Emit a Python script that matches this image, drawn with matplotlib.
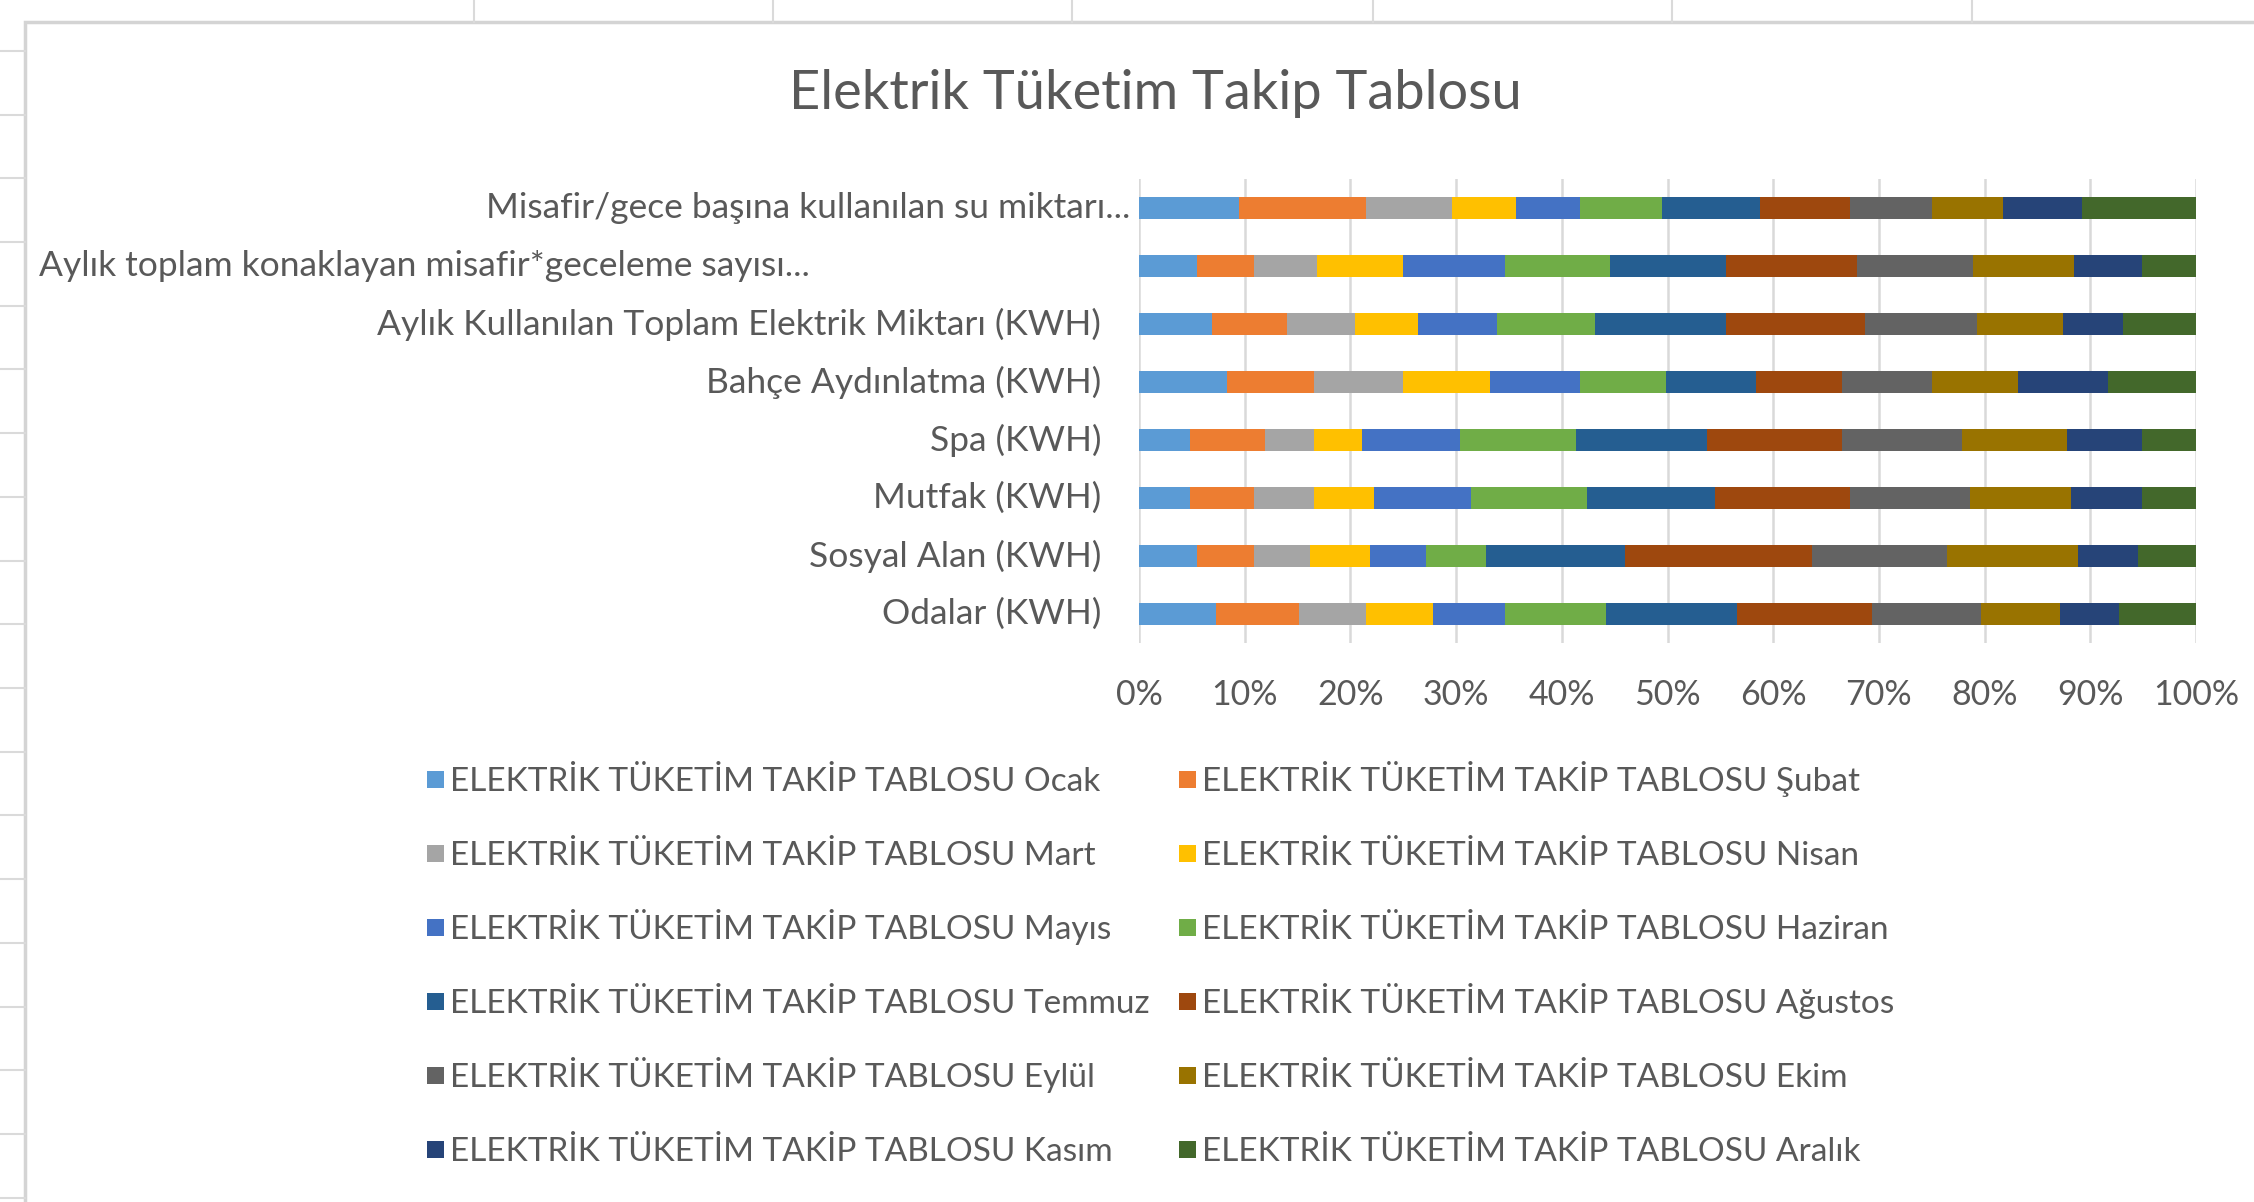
import numpy as np
import matplotlib
matplotlib.use("Agg")
from matplotlib import pyplot as plt
from matplotlib.patches import Rectangle
from matplotlib.lines import Line2D
from matplotlib.transforms import blended_transform_factory

plt.rcParams['font.family'] = ['Lato', 'DejaVu Sans']

# categories, bottom to top (Excel order)
categories = [
    'Odalar (KWH)',
    'Sosyal Alan (KWH)',
    'Mutfak (KWH)',
    'Spa (KWH)',
    'Bahçe Aydınlatma (KWH)',
    'Aylık Kullanılan Toplam Elektrik Miktarı (KWH)',
    'Aylık toplam konaklayan misafir*geceleme sayısı...',
    'Misafir/gece başına kullanılan su miktarı...',
]

months = ['Ocak', 'Şubat', 'Mart', 'Nisan', 'Mayıs', 'Haziran',
          'Temmuz', 'Ağustos', 'Eylül', 'Ekim', 'Kasım', 'Aralık']

# share of each month per category (%)
ocak = [7.29, 5.50, 4.83, 4.83, 8.34, 6.92, 5.50, 9.45]
subat = [7.83, 5.37, 6.04, 7.09, 8.20, 7.09, 5.37, 12.02]
mart = [6.35, 5.30, 5.67, 4.62, 8.41, 6.42, 5.98, 8.14]
nisan = [6.32, 5.67, 5.67, 4.56, 8.24, 5.94, 8.10, 6.04]
mayis = [6.82, 5.30, 9.19, 9.25, 8.50, 7.49, 9.66, 6.05]
haziran = [9.55, 5.68, 10.97, 10.97, 8.14, 9.25, 9.92, 7.76]
temmuz = [12.40, 13.13, 12.10, 12.40, 8.53, 12.40, 10.98, 9.27]
agustos = [12.79, 17.72, 12.78, 12.79, 8.15, 13.16, 12.42, 8.52]
eylul = [10.32, 12.78, 11.37, 11.37, 8.52, 10.63, 10.96, 7.78]
ekim = [7.48, 12.39, 9.57, 9.94, 8.12, 8.12, 9.57, 6.70]
kasim = [5.58, 5.68, 6.73, 7.10, 8.53, 5.68, 6.46, 7.51]
aralik = [7.27, 5.48, 5.08, 5.08, 8.32, 6.90, 5.08, 10.76]

series = [ocak, subat, mart, nisan, mayis, haziran,
          temmuz, agustos, eylul, ekim, kasim, aralik]

colors = ['#5B9BD5', '#ED7D31', '#A5A5A5', '#FFC000', '#4472C4', '#70AD47',
          '#255E91', '#9E480E', '#636363', '#997300', '#264478', '#43682B']

x_ticks = np.arange(0, 101, 10)
x_tick_labels = ['%d%%' % t for t in x_ticks]

title = 'Elektrik Tüketim Takip Tablosu'
prefix = 'ELEKTRİK TÜKETİM TAKİP TABLOSU '
text_color = '#595959'
W, H = 2254, 1202

fig = plt.figure(figsize=(W / 100, H / 100), dpi=100)

# spreadsheet cells behind the chart
for x in [474, 773, 1072, 1373, 1672, 1972]:
    fig.add_artist(Line2D([x / W, x / W], [1, 1 - 22 / H], color='#DADADA', lw=1.5))
for y in np.arange(51, H, 63.7):
    fig.add_artist(Line2D([0, 25 / W], [1 - y / H, 1 - y / H], color='#DADADA', lw=1.5))
# chart border
fig.add_artist(Rectangle((25 / W, -0.1), 1.2, 1.1 - 22 / H, transform=fig.transFigure,
                         facecolor='white', edgecolor='#D4D4D4', lw=2.5, zorder=0))

ax = fig.add_axes([1139 / W, 1 - 643 / H, 1057 / W, 464 / H])

data = np.array(series, dtype=float)
data = data / data.sum(axis=0) * 100
y = np.arange(len(categories))
left = np.zeros(len(categories))
for i, vals in enumerate(data):
    ax.barh(y, vals, left=left, height=0.39, color=colors[i], linewidth=0, zorder=3)
    left += vals

ax.set_xlim(0, 100)
ax.set_ylim(-0.5, len(categories) - 0.5)
ax.set_xticks(x_ticks)
ax.set_xticklabels(x_tick_labels)
ax.set_yticks([])
ax.grid(axis='x', color='#D9D9D9', lw=1.8, zorder=0)
for s in ax.spines.values():
    s.set_visible(False)
ax.tick_params(axis='x', length=0, pad=26, labelsize=24.5, labelcolor=text_color)
ax.patch.set_alpha(0)

# category labels (truncated ones sit differently, as in the original)
trans = blended_transform_factory(fig.transFigure, ax.transData)
for i, cat in enumerate(categories):
    if cat.startswith('Aylık toplam'):
        ax.text(39 / W, i, cat, transform=trans, ha='left', va='center',
                fontsize=25.5, color=text_color)
    elif cat.startswith('Misafir'):
        ax.text(1130 / W, i, cat, transform=trans, ha='right', va='center',
                fontsize=25.5, color=text_color)
    else:
        ax.text(1101 / W, i, cat, transform=trans, ha='right', va='center',
                fontsize=25.5, color=text_color)

fig.text(1155 / W, 1 - 93 / H, title, ha='center', va='center',
         fontsize=39, color=text_color)

# legend, filled row-wise like Excel, two columns
col_x = [427, 1179]
row_y0, row_step = 779, 74
box = 17
for i, m in enumerate(months):
    r, c = divmod(i, 2)
    yc = row_y0 + r * row_step
    fig.add_artist(Rectangle((col_x[c] / W, 1 - (yc + box / 2) / H), box / W, box / H,
                             transform=fig.transFigure, facecolor=colors[i], lw=0))
    fig.text((col_x[c] + box + 6) / W, 1 - (yc + 12) / H, prefix + m,
             ha='left', va='baseline', fontsize=24, color=text_color)

fig.savefig('out.png', dpi=100)
